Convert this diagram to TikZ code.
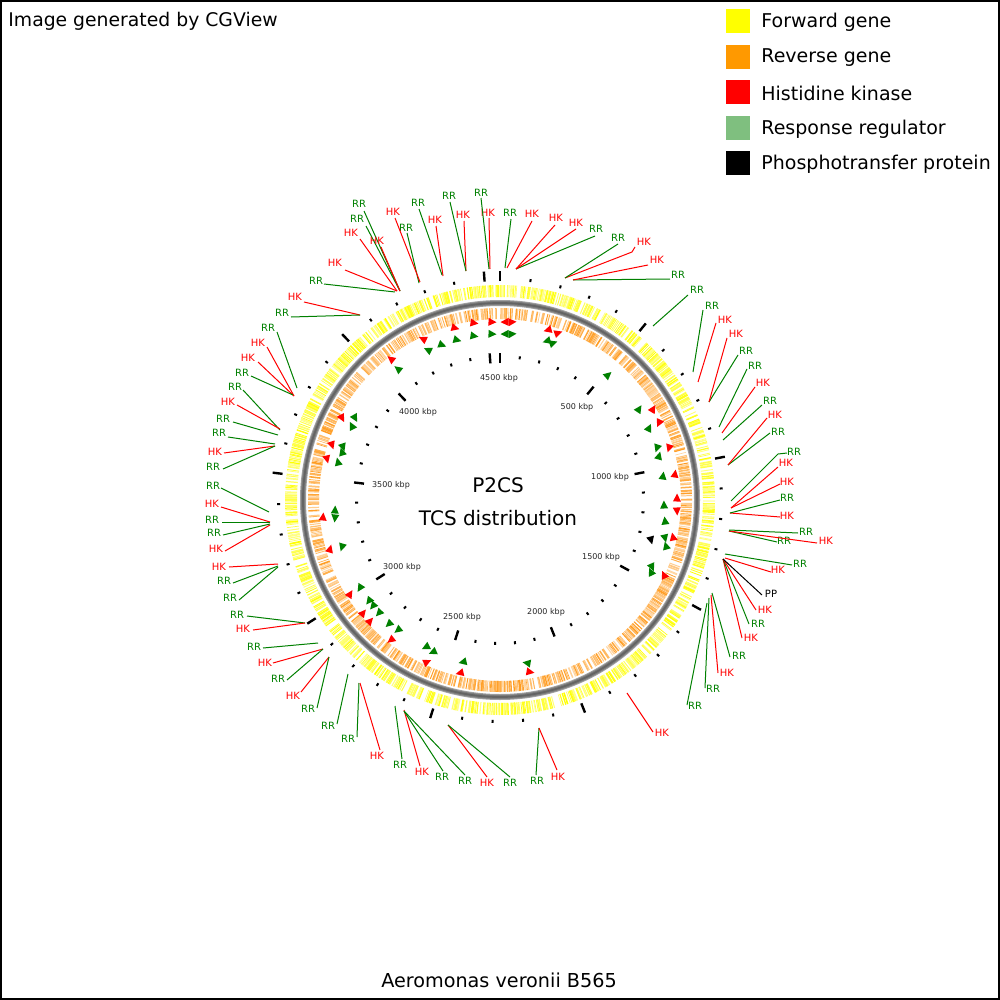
\documentclass[tikz,border=0pt]{standalone}
\usepackage{fontspec}
\setmainfont{DejaVu Sans}
\usetikzlibrary{calc}
\definecolor{hkred}{RGB}{255,0,0}
\definecolor{rrgreen}{RGB}{0,128,0}
\definecolor{legyellow}{RGB}{255,255,0}
\definecolor{legorange}{RGB}{255,153,0}
\definecolor{leggreen}{RGB}{127,191,127}
\definecolor{barorange}{RGB}{255,155,30}
\definecolor{ringgray}{RGB}{160,160,160}
\definecolor{ringmid}{RGB}{125,125,125}
\definecolor{ringdark}{RGB}{100,100,100}
\newcounter{labc}
\newcommand\lab[5]{%
  \stepcounter{labc}%
  \coordinate (s\arabic{labc}) at (#4);%
  \coordinate (e\arabic{labc}) at (#5);%
  \node[#1lbl] (n\arabic{labc}) at (#3) {#2};%
  \draw[#1ln] (s\arabic{labc}) -- (e\arabic{labc});%
}
\newcommand\labb[6]{%
  \stepcounter{labc}%
  \coordinate (s\arabic{labc}) at (#4);%
  \coordinate (m\arabic{labc}) at (#5);%
  \coordinate (e\arabic{labc}) at (#6);%
  \node[#1lbl] (n\arabic{labc}) at (#3) {#2};%
  \draw[#1ln] (s\arabic{labc}) -- (m\arabic{labc}) -- (e\arabic{labc});%
}
\newcommand\tri[4]{%
  \pgfmathsetmacro\triang{atan2(#3-500,#2-500)+90*#4}%
  \fill[#1,shift={(#2,#3)},rotate=\triang] (4.5,0) -- (-3.5,4) -- (-3.5,-4) -- cycle;%
}
\tikzset{
  lblfont/.style={font=\fontsize{5}{5.5}\selectfont, inner sep=0pt},
  hklbl/.style={lblfont, text=hkred},
  rrlbl/.style={lblfont, text=rrgreen},
  pplbl/.style={lblfont, text=black},
  hkln/.style={draw=hkred, line width=0.5pt},
  rrln/.style={draw=rrgreen, line width=0.5pt},
  ppln/.style={draw=black, line width=0.5pt},
  legbox/.style={minimum size=12pt, inner sep=0pt, draw=none},
  legtxt/.style={font=\fontsize{9.5}{11}\selectfont, anchor=west, inner sep=0pt},
  ticklbl/.style={font=\fontsize{4}{5}\selectfont, inner sep=0pt, text=black!85},
  bigtxt/.style={font=\fontsize{10}{12}\selectfont, inner sep=0pt},
}
\begin{document}
\begin{tikzpicture}[x=0.5pt,y=-0.5pt]
\useasboundingbox (0,0) rectangle (1000,1000);
\fill[white] (0,0) rectangle (1000,1000);
\draw[line width=1pt] (1,1) rectangle (999,999);

% rings
\begin{scope}[shift={(500,500)}]
  \pgfmathsetseed{7}
  \foreach \i in {0,...,899}{
    \pgfmathsetmacro\ang{\i*0.4+0.3*rnd}
    \pgfmathsetmacro\pp{rnd}
    \pgfmathsetmacro\ww{0.3+0.6*rnd}
    \pgfmathsetmacro\cc{45+55*rnd}
    \ifdim\pp pt<0.8pt
      \draw[line width=\ww pt, color=legyellow!\cc!white] (\ang:203) -- (\ang:215);
    \fi
  }
  \foreach \i in {0,...,899}{
    \pgfmathsetmacro\ang{\i*0.4+0.3*rnd}
    \pgfmathsetmacro\pp{rnd}
    \pgfmathsetmacro\ww{0.3+0.6*rnd}
    \pgfmathsetmacro\cc{40+60*rnd}
    \ifdim\pp pt<0.75pt
      \draw[line width=\ww pt, color=barorange!\cc!white] (\ang:181) -- (\ang:192);
    \fi
  }
  \draw[ringgray, line width=3pt] (0,0) circle (197);
  \draw[ringmid, line width=2pt] (0,0) circle (197);
  \draw[ringdark, line width=0.9pt] (0,0) circle (197);
  % ticks
  \foreach \k in {0,...,45}{
    \pgfmathsetmacro\ang{\k*100/4551*360-90}
    \pgfmathtruncatemacro\mj{mod(\k,5)==0}
    \ifnum\mj=1
      \draw[line width=1.2pt] (\ang:219) -- (\ang:229);
      \draw[line width=1.2pt] (\ang:137) -- (\ang:147);
    \else
      \draw[line width=1pt] (\ang:220) -- (\ang:223);
      \draw[line width=1pt] (\ang:142) -- (\ang:145);
    \fi
  }
\end{scope}

% tick labels
\node[ticklbl] (t4500) at (499,378) {4500 kbp};
\node[ticklbl] (t500) at (577,407) {500 kbp};
\node[ticklbl] (t1000) at (610,477) {1000 kbp};
\node[ticklbl] (t1500) at (601,557) {1500 kbp};
\node[ticklbl] (t2000) at (546,612) {2000 kbp};
\node[ticklbl] (t2500) at (462,617) {2500 kbp};
\node[ticklbl] (t3000) at (402,567) {3000 kbp};
\node[ticklbl] (t3500) at (391,485) {3500 kbp};
\node[ticklbl] (t4000) at (418,412) {4000 kbp};

% triangles HK
\foreach \x/\y/\d in {455/328/1,474/323/1,492/322/1,505/322/-1,512/322/1,548/330/-1,558/333/1,423/339/-1,391/359/-1,342/418/1,332/445/1,327/459/1,323/517/-1,330/549/-1,350/594/-1,363/613/-1,370/621/-1,391/640/1,427/662/-1,460/673/1,530/672/-1,653/409/1,659/423/-1,669/448/-1,675/474/1,677/498/1,677/511/-1,673/537/1,664/575/1}{\tri{hkred}{\x}{\y}{\d}}
% triangles RR
\foreach \x/\y/\d in {442/345/1,457/340/1,474/336/1,492/334/1,505/334/-1,512/334/1,547/341/-1,553/343/1,428/350/-1,398/369/-1,355/418/1,352/426/-1,343/447/1,342/452/-1,338/462/-1,335/510/-1,335/518/1,342/547/1,360/588/1,369/601/1,373/606/1,379/613/1,389/624/1,398/630/1,426/647/1,433/652/1,463/662/1,527/663/1,608/375/1,639/409/1,649/428/1,657/448/-1,659/456/1,663/476/1,664/505/1,665/521/1,665/538/-1,666/546/1,652/567/-1,651/572/1}{\tri{rrgreen}{\x}{\y}{\d}}
\tri{black}{651}{540}{-1}

% labels
\lab{rr}{RR}{359,204}{400,291}{364,211}
\lab{rr}{RR}{357,219}{400,291}{366,226}
\lab{hk}{HK}{351,233}{397,291}{360,239}
\lab{hk}{HK}{377,241}{400,291}{381,247}
\lab{hk}{HK}{335,263}{397,291}{345,270}
\lab{rr}{RR}{316,281}{395,292}{324,284}
\lab{hk}{HK}{295,297}{360,315}{304,302}
\lab{rr}{RR}{282,313}{360,315}{291,317}
\lab{rr}{RR}{268,328}{297,388}{277,332}
\lab{hk}{HK}{258,343}{294,396}{267,347}
\lab{hk}{HK}{248,358}{294,396}{258,362}
\lab{rr}{RR}{242,373}{293,395}{251,376}
\lab{rr}{RR}{235,387}{280,430}{243,390}
\lab{hk}{HK}{228,402}{280,429}{237,405}
\lab{rr}{RR}{223,419}{278,435}{233,422}
\lab{rr}{RR}{219,433}{275,444}{228,437}
\lab{hk}{HK}{215,452}{275,446}{224,453}
\lab{rr}{RR}{213,467}{275,446}{223,469}
\lab{rr}{RR}{213,486}{269,512}{221,488}
\lab{hk}{HK}{212,504}{270,522}{221,507}
\lab{rr}{RR}{212,520}{270,522}{222,522}
\lab{rr}{RR}{214,533}{270,524}{223,535}
\lab{hk}{HK}{216,549}{270,525}{225,551}
\lab{hk}{HK}{219,567}{278,564}{229,567}
\lab{rr}{RR}{224,581}{278,566}{233,583}
\lab{rr}{RR}{230,598}{278,567}{239,600}
\lab{rr}{RR}{237,615}{305,623}{247,616}
\lab{hk}{HK}{243,629}{305,623}{253,630}
\lab{rr}{RR}{254,647}{318,643}{263,648}
\lab{hk}{HK}{265,663}{323,649}{273,663}
\lab{rr}{RR}{278,679}{323,649}{287,680}
\lab{hk}{HK}{293,696}{329,657}{301,692}
\lab{rr}{RR}{308,709}{329,657}{317,708}
\lab{rr}{RR}{328,726}{348,674}{337,724}
\lab{rr}{RR}{348,739}{359,683}{357,737}
\lab{hk}{HK}{377,756}{360,683}{380,750}
\lab{rr}{RR}{400,765}{395,706}{402,759}
\lab{hk}{HK}{422,772}{404,710}{420,766}
\lab{rr}{RR}{442,777}{404,711}{443,771}
\lab{rr}{RR}{465,781}{404,711}{465,775}
\lab{hk}{HK}{487,783}{448,725}{487,777}
\lab{rr}{RR}{510,783}{448,725}{510,777}
\lab{rr}{RR}{537,781}{539,728}{536,775}
\lab{hk}{HK}{558,777}{539,728}{557,770}
\lab{hk}{HK}{662,733}{627,693}{653,732}
\lab{rr}{RR}{695,706}{707,603}{687,705}
\lab{rr}{RR}{713,689}{709,598}{705,688}
\lab{hk}{HK}{727,673}{711,595}{718,673}
\lab{rr}{RR}{739,656}{712,593}{730,657}
\lab{hk}{HK}{751,638}{723,559}{742,638}
\lab{rr}{RR}{758,624}{723,559}{749,624}
\lab{hk}{HK}{765,610}{723,559}{756,610}
\lab{pp}{PP}{771,594}{723,559}{762,595}
\lab{hk}{HK}{778,570}{725,558}{771,572}
\lab{rr}{RR}{800,564}{725,554}{792,565}
\lab{rr}{RR}{784,541}{729,531}{777,542}
\lab{hk}{HK}{826,541}{729,531}{817,543}
\lab{rr}{RR}{806,532}{729,530}{798,533}
\lab{hk}{HK}{787,516}{730,513}{780,517}
\lab{rr}{RR}{787,498}{730,513}{780,500}
\lab{hk}{HK}{787,482}{731,508}{780,484}
\lab{hk}{HK}{786,463}{731,508}{778,467}
\labb{rr}{RR}{794,452}{731,501}{778,454}{787,453}
\lab{rr}{RR}{778,432}{728,465}{770,433}
\lab{hk}{HK}{775,415}{728,465}{767,418}
\lab{rr}{RR}{770,401}{723,440}{762,405}
\lab{hk}{HK}{763,383}{722,433}{755,387}
\lab{rr}{RR}{755,366}{719,427}{747,369}
\lab{rr}{RR}{746,351}{709,402}{738,355}
\lab{hk}{HK}{736,334}{709,402}{727,338}
\lab{hk}{HK}{725,320}{698,382}{716,323}
\lab{rr}{RR}{712,306}{693,372}{703,310}
\lab{rr}{RR}{697,290}{653,326}{688,295}
\lab{rr}{RR}{678,275}{573,280}{670,279}
\lab{hk}{HK}{657,260}{573,280}{648,265}
\labb{hk}{HK}{644,242}{565,278}{632,252}{635,247}
\lab{rr}{RR}{618,238}{565,278}{618,244}
\lab{rr}{RR}{596,229}{516,269}{595,236}
\lab{hk}{HK}{576,223}{516,269}{576,229}
\lab{hk}{HK}{556,218}{516,269}{555,225}
\lab{hk}{HK}{532,214}{507,268}{532,221}
\lab{rr}{RR}{510,213}{505,268}{511,219}
\lab{hk}{HK}{488,213}{490,269}{489,218}
\lab{rr}{RR}{481,193}{489,269}{481,198}
\lab{hk}{HK}{463,215}{466,271}{464,221}
\lab{rr}{RR}{449,196}{466,271}{450,202}
\lab{hk}{HK}{435,220}{443,276}{436,226}
\lab{rr}{RR}{418,203}{442,275}{419,209}
\lab{rr}{RR}{406,228}{419,283}{407,233}
\lab{hk}{HK}{393,212}{420,282}{395,218}

% centre text
\node[bigtxt] (p2cs) at (498,485) {P2CS};
\node[bigtxt] (tcs) at (498,518) {TCS distribution};

% title and caption
\node[font=\fontsize{9.4}{11}\selectfont, anchor=west, inner sep=0pt] (title) at (8,21) {Image generated by CGView};
\node[font=\fontsize{9.6}{11}\selectfont, inner sep=0pt] (caption) at (499,980) {Aeromonas veronii B565};

% legend
\node[legbox, fill=legyellow] (lb1) at (738,21) {};
\node[legbox, fill=legorange] (lb2) at (738,57) {};
\node[legbox, fill=hkred] (lb3) at (738,92) {};
\node[legbox, fill=leggreen] (lb4) at (738,128) {};
\node[legbox, fill=black] (lb5) at (738,163) {};
\node[legtxt] (lt1) at (761,22) {Forward gene};
\node[legtxt] (lt2) at (761,58) {Reverse gene};
\node[legtxt] (lt3) at (761,93) {Histidine kinase};
\node[legtxt] (lt4) at (761,129) {Response regulator};
\node[legtxt] (lt5) at (761,164) {Phosphotransfer protein};
\end{tikzpicture}
\end{document}
